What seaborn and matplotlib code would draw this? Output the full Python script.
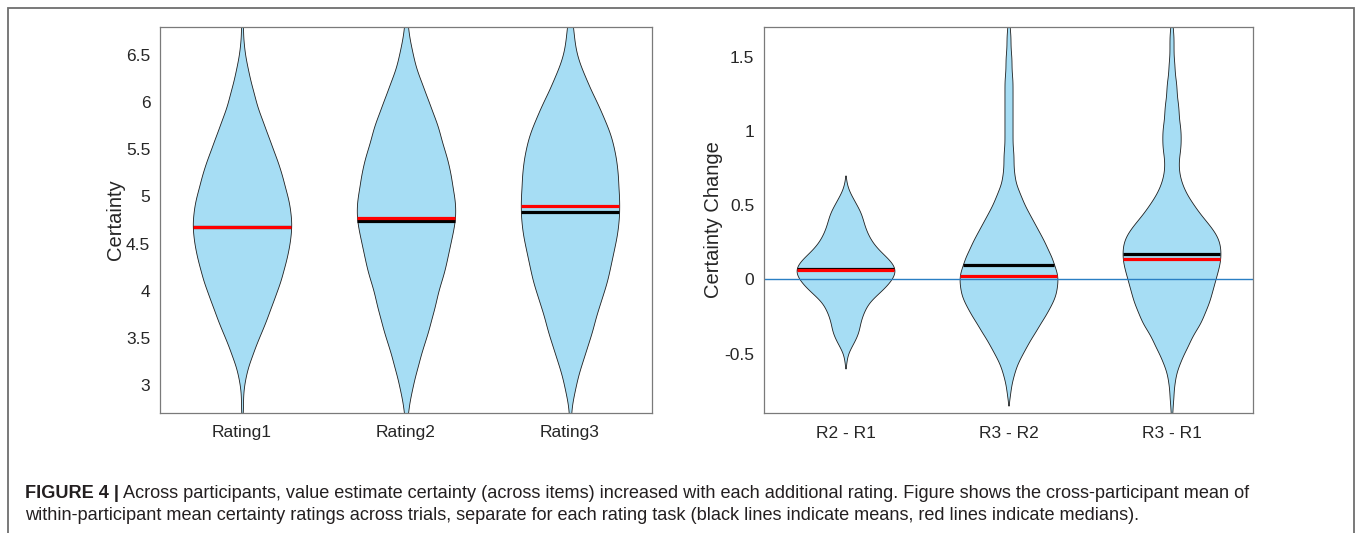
import numpy as np
import pandas as pd
import matplotlib
matplotlib.use("Agg")
import matplotlib.pyplot as plt
import seaborn as sns
from matplotlib.patches import Rectangle

# ---------------- data ----------------
rating_labels = ["Rating1", "Rating2", "Rating3"]
rating_bins = [2.5, 2.6, 2.7, 2.8, 2.9, 3.0, 3.1, 3.2, 3.3, 3.4, 3.5, 3.6, 3.7, 3.8, 3.9,
               4.0, 4.1, 4.2, 4.3, 4.4, 4.5, 4.6, 4.7, 4.8, 4.9, 5.0, 5.1, 5.2, 5.3, 5.4,
               5.5, 5.6, 5.7, 5.8, 5.9, 6.0, 6.1, 6.2, 6.3, 6.4, 6.5, 6.6, 6.7, 6.8, 6.9, 7.0]
rating1_counts = [0, 0, 1, 1, 1, 2, 4, 6, 10, 13, 17, 21, 25, 28, 32,
                  35, 39, 41, 44, 46, 48, 49, 50, 49, 48, 46, 43, 41, 38, 35,
                  31, 28, 24, 21, 17, 14, 12, 9, 7, 5, 3, 2, 1, 1, 1, 0]
rating2_counts = [0, 1, 2, 3, 5, 7, 9, 12, 14, 17, 20, 23, 25, 28, 30,
                  32, 35, 38, 40, 42, 44, 46, 48, 49, 49, 48, 46, 45, 43, 41,
                  38, 35, 33, 30, 26, 23, 19, 16, 12, 9, 7, 5, 3, 2, 1, 1]
rating3_counts = [0, 1, 1, 2, 4, 6, 8, 11, 14, 17, 20, 23, 25, 28, 31,
                  34, 37, 39, 41, 43, 45, 47, 48, 49, 49, 49, 48, 48, 47, 46,
                  44, 42, 39, 35, 31, 27, 22, 18, 14, 10, 7, 5, 4, 3, 2, 1]
rating_means = [4.675, 4.737, 4.84]
rating_medians = [4.675, 4.769, 4.90]
rating_ticks = [3, 3.5, 4, 4.5, 5, 5.5, 6, 6.5]
rating_ticklabels = ["3", "3.5", "4", "4.5", "5", "5.5", "6", "6.5"]

change_labels = ["R2 - R1", "R3 - R2", "R3 - R1"]
change_bins = [-1.0, -0.95, -0.9, -0.85, -0.8, -0.75, -0.7, -0.65, -0.6, -0.55,
               -0.5, -0.45, -0.4, -0.35, -0.3, -0.25, -0.2, -0.15, -0.1, -0.05,
               0.0, 0.05, 0.1, 0.15, 0.2, 0.25, 0.3, 0.35, 0.4, 0.45,
               0.5, 0.55, 0.6, 0.65, 0.7, 0.75, 0.8, 0.85, 0.9, 0.95,
               1.0, 1.05, 1.1, 1.15, 1.2, 1.25, 1.3, 1.35, 1.4, 1.45,
               1.5, 1.55, 1.6, 1.65, 1.7, 1.75, 1.8]
r2r1_counts = [0, 0, 0, 0, 0, 0, 0, 0, 0, 1,
               2, 6, 10, 13, 14, 16, 19, 23, 31, 39,
               45, 49, 47, 40, 32, 26, 22, 19, 17, 15,
               11, 7, 3, 1, 0, 0, 0, 0, 0, 0,
               0, 0, 0, 0, 0, 0, 0, 0, 0, 0,
               0, 0, 0, 0, 0, 0, 0]
r3r2_counts = [0, 0, 0, 0, 1, 2, 3, 5, 7, 10,
               14, 18, 22, 27, 31, 36, 40, 44, 47, 48,
               49, 48, 45, 43, 39, 36, 32, 28, 24, 20,
               16, 13, 10, 7, 6, 5, 5, 5, 4, 4,
               4, 4, 4, 4, 4, 4, 4, 4, 3, 3,
               3, 2, 2, 2, 1, 1, 1]
r3r1_counts = [0, 0, 1, 1, 2, 2, 3, 4, 6, 9,
               12, 16, 19, 23, 28, 31, 34, 37, 39, 41,
               43, 45, 47, 48, 48, 47, 44, 39, 33, 27,
               22, 17, 13, 10, 8, 7, 7, 8, 9, 9,
               9, 8, 7, 7, 6, 5, 5, 4, 3, 3,
               2, 2, 2, 2, 1, 1, 1]
change_means = [0.072, 0.099, 0.168]
change_medians = [0.06, 0.022, 0.139]
change_ticks = [-0.5, 0, 0.5, 1, 1.5]
change_ticklabels = ["-0.5", "0", "0.5", "1", "1.5"]

# ---------------- style ----------------
sns.set_theme(style="white")
plt.rcParams["font.family"] = ["Liberation Sans", "DejaVu Sans"]

FILL = "#a6ddf4"
EDGE = "#1e1e1e"
TXT = "#262626"
SPINE = "#7a7a7a"

fig = plt.figure(figsize=(13.6, 5.33), dpi=100)
axL = fig.add_axes([160 / 1360, 1 - 413 / 533, 492 / 1360, 386 / 533])
axR = fig.add_axes([764 / 1360, 1 - 413 / 533, 489 / 1360, 386 / 533])


def draw_panel(ax, labels, bins, counts_list, bw, cut, means, medians):
    n_before = len(ax.collections)
    for lab, counts in zip(labels, counts_list):
        vals = np.repeat(np.asarray(bins, float), counts)
        df = pd.DataFrame({"cond": lab, "val": vals})
        sns.violinplot(data=df, x="cond", y="val", order=labels, ax=ax,
                       color=FILL, saturation=1, linecolor=EDGE, linewidth=0.6,
                       inner=None, width=0.6, density_norm="width",
                       bw_method=bw / np.std(vals, ddof=1), cut=cut, gridsize=600)
    polys = ax.collections[n_before:n_before + len(labels)]
    for i, coll in enumerate(polys):
        coll.set_zorder(2)
        v = coll.get_paths()[0].vertices
        right = v[v[:, 0] > i + 1e-9]
        order = np.argsort(right[:, 1])
        ys, xs = right[order, 1], right[order, 0]
        for val, col in ((means[i], "black"), (medians[i], "#ff0000")):
            hw = np.interp(val, ys, xs) - i
            ax.plot([i - hw, i + hw], [val, val], color=col, lw=2.3,
                    solid_capstyle="butt", zorder=6)


draw_panel(axL, rating_labels, rating_bins,
           [rating1_counts, rating2_counts, rating3_counts], 0.085, 2,
           rating_means, rating_medians)
draw_panel(axR, change_labels, change_bins,
           [r2r1_counts, r3r2_counts, r3r1_counts], 0.038, 1.3,
           change_means, change_medians)
axR.axhline(0, color="#2a7fc4", lw=1.0, zorder=4)

for ax, lim, ticks, tl, ylab in (
        (axL, (2.7, 6.8), rating_ticks, rating_ticklabels, "Certainty"),
        (axR, (-0.9, 1.7), change_ticks, change_ticklabels, "Certainty Change")):
    ax.set_ylim(*lim)
    ax.set_xlim(-0.5, 2.5)
    ax.set_yticks(ticks)
    ax.set_yticklabels(tl)
    ax.set_xlabel("")
    ax.set_ylabel(ylab, fontsize=14.5, color=TXT, labelpad=1)
    ax.tick_params(axis="both", length=0, labelsize=12.5, labelcolor=TXT)
    ax.tick_params(axis="y", pad=7)
    ax.tick_params(axis="x", pad=9)
    for s in ax.spines.values():
        s.set_visible(True)
        s.set_color(SPINE)
        s.set_linewidth(0.9)
        s.set_zorder(7)

# frame around figure + caption
fig.patches.append(Rectangle((8 / 1360, -0.2), (1354 - 8) / 1360, 1.2 - 8 / 533,
                             transform=fig.transFigure, fill=False,
                             edgecolor="#6e6e6e", lw=1.3))

cap_color = "#231f20"
cap_size = 13.1
fig.canvas.draw()
t_bold = fig.text(25 / 1360, 1 - 493 / 533, "FIGURE 4 |", fontsize=cap_size,
                  fontweight="bold", color=cap_color, va="center", ha="left")
fig.canvas.draw()
bb = t_bold.get_window_extent()
fig.text((bb.x1 + 4) / 1360, 1 - 493 / 533,
         "Across participants, value estimate certainty (across items) increased with each "
         "additional rating. Figure shows the cross-participant mean of",
         fontsize=cap_size, color=cap_color, va="center", ha="left")
fig.text(25 / 1360, 1 - 515 / 533,
         "within-participant mean certainty ratings across trials, separate for each rating "
         "task (black lines indicate means, red lines indicate medians).",
         fontsize=cap_size, color=cap_color, va="center", ha="left")

fig.savefig("out.png", dpi=100)
